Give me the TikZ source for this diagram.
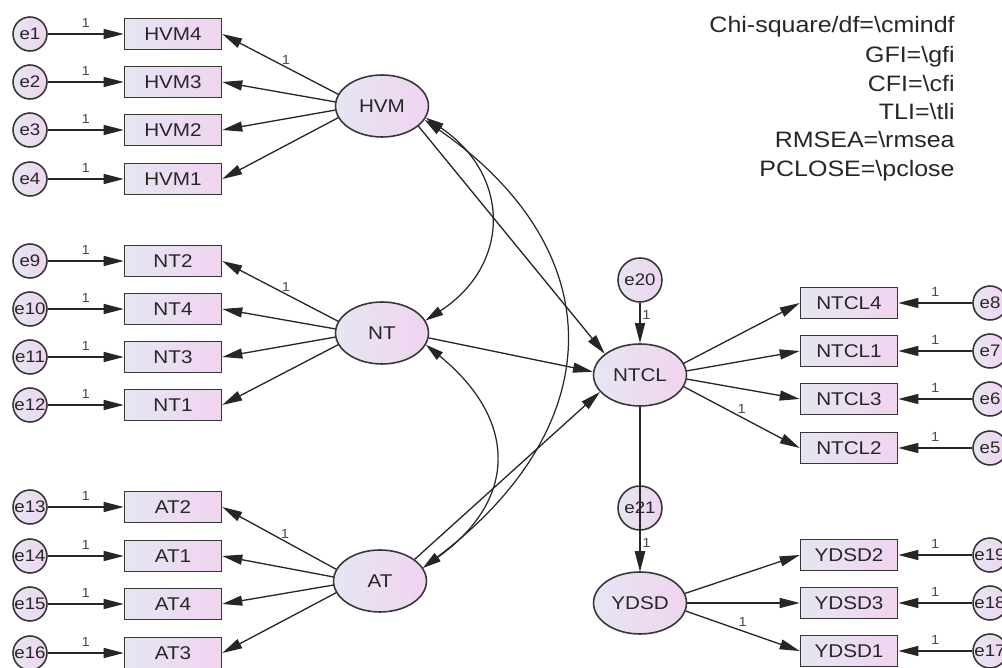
\documentclass[tikz,border=0pt]{standalone}
\usepackage{fontspec}
\setmainfont{Liberation Sans}[FakeStretch=1.12]
\usepackage{tikz}
\usetikzlibrary{arrows.meta, shapes.geometric}

\definecolor{shapeL}{RGB}{230,230,242}
\definecolor{shapeR}{RGB}{240,212,240}
\definecolor{linegray}{RGB}{55,55,55}

\begin{document}
\begin{tikzpicture}[x=0.02cm, y=-0.02cm,
      obs/.style={rectangle, draw=linegray, line width=0.9pt, left color=shapeL, right color=shapeR, text=black!85, minimum width=1.94cm, minimum height=0.62cm, inner sep=0pt, font=\fontsize{10.5}{12}\selectfont},
      lat/.style={ellipse, draw=linegray, line width=0.9pt, left color=shapeL, right color=shapeR, text=black!85, minimum width=1.86cm, minimum height=1.24cm, inner sep=0pt, font=\fontsize{10.5}{12}\selectfont},
      err/.style={circle, draw=linegray, line width=0.9pt, left color=shapeL, right color=shapeR, text=black!85, minimum size=0.68cm, inner sep=0pt, font=\fontsize{9.5}{11}\selectfont},
      errbig/.style={err, minimum size=0.88cm},
      arr/.style={-{Triangle[length=4mm, width=2mm]}, line width=0.75pt, draw=black!85},
      cov/.style={{Triangle[length=3.6mm, width=1.9mm]}-{Triangle[length=3.6mm, width=1.9mm]}, line width=0.7pt, draw=black!85},
      one/.style={font=\fontsize{7.5}{8}\selectfont, text=black!70, inner sep=1pt},
      gof/.style={anchor=base east, font=\fontsize{12.7}{15}\selectfont, text=black!85, inner sep=0pt}]

      \useasboundingbox (0,0) rectangle (1002,668);

      % Fit indices
      \foreach \txt/\y [count=\k] in {{Chi-square/df=\textbackslash cmindf}/33, GFI=\textbackslash gfi/63, CFI=\textbackslash cfi/92, TLI=\textbackslash tli/120, RMSEA=\textbackslash rmsea/148, PCLOSE=\textbackslash pclose/177}
        \node[gof] (fit\k) at (955,\y) {\txt};

      % Latent variables
      \node[lat] (HVM) at (382,106) {HVM};
      \node[lat] (NT) at (382,333) {NT};
      \node[lat] (AT) at (380,581) {AT};
      \node[lat] (NTCL) at (640,375) {NTCL};
      \node[lat] (YDSD) at (640,603) {YDSD};
      \node[errbig] (e20) at (640,280) {e20};
      \node[errbig] (e21) at (640,508) {e21};

      % Left indicators
      \foreach \lv/\mv/\ev/\y/\ang/\lab in {HVM/HVM4/e1/34/165/1, HVM/HVM3/e2/82/175/{}, HVM/HVM2/e3/130/185/{}, HVM/HVM1/e4/179/195/{},
          NT/NT2/e9/261/165/1, NT/NT4/e10/309/175/{}, NT/NT3/e11/357/185/{}, NT/NT1/e12/405/195/{},
          AT/AT2/e13/507/165/1, AT/AT1/e14/556/175/{}, AT/AT4/e15/604/185/{}, AT/AT3/e16/653/195/{}} {
        \node[obs] (\mv) at (173,\y) {\mv};
        \node[err] (\ev) at (30,\y) {\ev};
        \draw[arr] (\ev) -- node[one, above=2.5pt] {1} (\mv);
        \draw[arr] (\lv.\ang) -- node[one, pos=0.45, above] {\lab} (\mv.east);
      }

      % Right indicators
      \foreach \lv/\mv/\ev/\y/\ang/\lab in {NTCL/NTCL4/e8/303/15/{}, NTCL/NTCL1/e7/351/5/{}, NTCL/NTCL3/e6/399/-5/{}, NTCL/NTCL2/e5/448/-15/1,
          YDSD/YDSD2/e19/555/12/{}, YDSD/YDSD3/e18/603/0/{}, YDSD/YDSD1/e17/651/-10/1} {
        \node[obs] (\mv) at (849,\y) {\mv};
        \node[err] (\ev) at (990,\y) {\ev};
        \draw[arr] (\ev) -- node[one, above=2.5pt] {1} (\mv);
        \draw[arr] (\lv.\ang) -- node[one, pos=0.5, above=1pt] {\lab} (\mv.west);
      }

      % Structural paths
      \draw[arr] (HVM.-29) -- (NTCL.149);
      \draw[arr] (NT.-6) -- (NTCL.176);
      \draw[arr] (AT.32) -- (NTCL.-157);
      \draw[arr] (NTCL) -- (YDSD);
      \draw[arr] (e20) -- node[one, pos=0.3, right] {1} (NTCL);
      \draw[arr] (e21) -- node[one, pos=0.3, right] {1} (YDSD);

      % Covariances
      \draw[cov] (HVM.-15) .. controls (511,175) and (511,265) .. (NT.16);
      \draw[cov] (HVM.-18) .. controls (612,250) and (612,425) .. (AT.17);
      \draw[cov] (NT.-15) .. controls (518,420) and (518,500) .. (AT.17);
    \end{tikzpicture}
\end{document}
